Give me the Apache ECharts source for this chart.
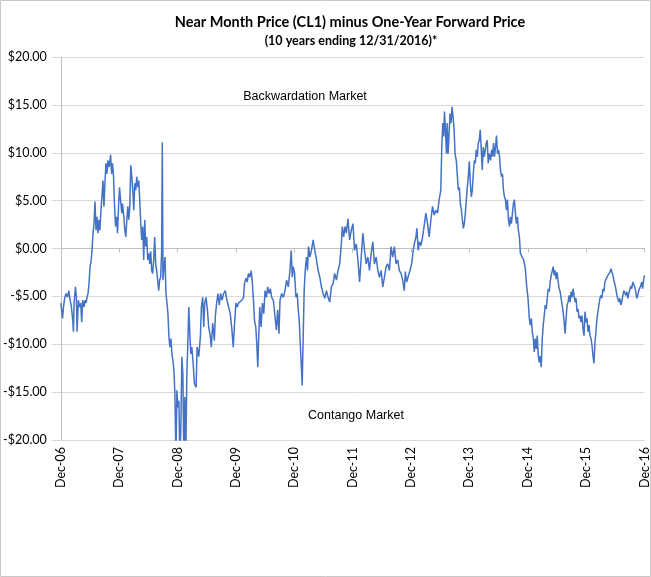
<!DOCTYPE html>
<html>
<head>
<meta charset="utf-8">
<script src="https://cdn.jsdelivr.net/npm/echarts@6/dist/echarts.min.js"></script>
<style>
  html, body { margin: 0; padding: 0; background: #fff; }
  #chart { width: 651px; height: 577px; }
</style>
</head>
<body>
<div id="chart"></div>
<script>
// [months after Dec-06, CL1 minus one-year forward in $/bbl]
const spreadReadings = [
  // 2007
  [0.00,-5.7],[0.35,-7.3],[0.55,-6.1],[0.82,-5.1],[1.09,-4.7],[1.36,-5.1],[1.64,-4.4],[1.91,-5.4],[2.18,-6.1],[2.45,-7.5],
  [2.59,-8.7],[2.73,-5.7],[3.00,-4.0],[3.20,-5.1],[3.33,-8.7],[3.61,-5.4],[3.82,-6.1],[4.09,-5.7],[4.29,-7.7],[4.50,-5.4],
  [4.77,-6.1],[4.98,-5.4],[5.18,-5.7],[5.39,-5.1],[5.59,-4.7],[5.79,-3.7],[6.00,-1.9],[6.20,-1.4],[6.41,-0.2],[6.61,1.6],
  [6.82,2.6],[7.02,4.9],[7.23,1.9],[7.43,3.3],[7.63,1.6],[7.84,3.0],[8.04,1.9],[8.25,4.0],[8.45,5.4],[8.66,7.1],
  [8.86,4.4],[9.07,6.8],[9.27,8.9],[9.48,7.8],[9.68,9.2],[9.95,8.5],[10.23,9.8],[10.43,7.8],[10.63,8.9],[10.84,7.5],
  [11.04,4.4],[11.25,2.3],[11.45,3.3],[11.66,1.6],[11.86,4.4],[12.07,6.4],[12.27,5.1],[12.54,3.7],
  // 2008
  [12.68,4.7],[12.95,3.3],[13.16,1.9],[13.36,1.2],[13.57,3.0],[13.77,4.4],[13.98,3.0],[14.18,4.4],[14.38,8.7],[14.59,7.5],
  [14.79,6.1],[15.00,4.0],[15.20,6.8],[15.41,6.1],[15.61,7.5],[15.82,6.4],[16.02,7.1],[16.22,5.1],[16.43,2.6],[16.63,0.9],
  [16.84,2.3],[17.04,-1.2],[17.25,3.0],[17.45,0.2],[17.66,1.2],[17.86,-1.2],[18.07,-0.5],[18.27,-1.6],[18.47,-0.3],[18.68,-2.3],
  [18.88,-2.6],[19.09,-1.2],[19.29,1.2],[19.50,-1.6],[19.70,-2.3],[19.91,-3.3],[20.11,-4.4],[20.32,-3.3],[20.52,-3.0],[20.72,-0.5],
  [20.86,11.1],[21.00,-3.3],[21.20,-1.9],[21.41,-0.9],[21.61,-4.7],[21.82,-5.7],[22.02,-6.8],[22.22,-9.2],[22.43,-10.3],[22.63,-9.4],
  [22.84,-11.0],[23.04,-11.7],[23.25,-12.7],[23.45,-15.2],[23.66,-22.0],[23.86,-14.8],[24.07,-16.6],[24.27,-15.9],[24.47,-22.0],[24.68,-18.6],
  // 2009
  [24.88,-11.3],[25.09,-13.1],[25.29,-22.0],[25.50,-15.5],[25.70,-21.0],[25.91,-13.1],[26.11,-9.9],[26.31,-6.1],[26.52,-8.9],[26.72,-11.0],
  [26.93,-10.3],[27.20,-12.0],[27.47,-14.1],[27.81,-14.5],[28.01,-10.3],[28.35,-11.3],[28.69,-9.2],[28.90,-6.1],[29.17,-5.1],[29.38,-8.2],
  [29.58,-5.7],[29.85,-5.1],[30.13,-6.4],[30.40,-8.2],[30.74,-9.2],[30.94,-10.3],[31.22,-7.8],[31.56,-9.6],[31.76,-7.1],[32.03,-5.7],
  [32.31,-4.7],[32.58,-5.9],[32.85,-4.7],[33.13,-5.4],[33.47,-4.7],[33.81,-4.4],[34.15,-5.4],[34.49,-5.4],[34.83,-6.8],[35.17,-8.5],
  [35.44,-10.3],[35.72,-7.8],[35.99,-5.7],
  // 2010
  [36.26,-6.1],[36.53,-5.7],[36.87,-5.9],[37.22,-5.4],[37.56,-5.1],[37.76,-3.7],[38.03,-3.1],[38.31,-3.5],[38.58,-2.6],[38.85,-3.0],
  [39.12,-2.3],[39.33,-3.3],[39.60,-5.4],[39.81,-7.5],[40.08,-8.2],[40.28,-9.9],[40.49,-12.4],[40.69,-9.2],[40.90,-6.1],[41.17,-8.2],
  [41.44,-5.7],[41.72,-6.8],[41.99,-4.4],[42.26,-5.1],[42.53,-4.0],[42.81,-4.7],[43.08,-4.2],[43.35,-5.1],[43.69,-5.4],[44.03,-7.1],
  [44.31,-8.5],[44.58,-6.4],[44.85,-8.9],[45.06,-5.4],[45.40,-4.7],[45.74,-5.1],[46.08,-4.4],[46.42,-3.3],[46.76,-4.0],[47.10,-2.3],
  [47.37,-0.2],[47.58,-3.0],[47.78,-1.9],
  // 2011
  [48.06,-2.6],[48.33,-5.1],[48.60,-4.7],[48.81,-6.4],[49.01,-7.5],[49.22,-9.9],[49.42,-12.0],[49.62,-14.3],[49.83,-9.2],[50.03,-4.4],
  [50.24,-2.3],[50.51,-0.9],[50.71,-2.3],[50.92,0.2],[51.19,-0.9],[51.53,-0.2],[51.87,0.9],[52.21,-0.2],[52.56,-1.2],[52.90,-2.3],
  [53.24,-3.0],[53.58,-4.0],[53.92,-4.7],[54.26,-5.2],[54.60,-4.4],[54.94,-5.1],[55.28,-5.6],[55.62,-4.0],[55.96,-3.7],[56.30,-2.6],
  [56.65,-3.3],[56.99,-2.3],[57.33,-1.6],[57.67,0.5],[57.87,2.3],[58.15,1.2],[58.42,2.3],[58.69,1.6],[59.03,3.1],[59.37,0.9],
  [59.71,1.9],
  // 2012
  [60.05,2.6],[60.39,-0.2],[60.74,0.5],[61.08,-1.2],[61.42,-3.5],[61.76,-0.9],[62.10,1.6],[62.44,-0.2],[62.78,-1.6],[63.12,-0.9],
  [63.46,-2.3],[63.80,-0.5],[64.14,0.7],[64.48,-1.6],[64.83,-0.9],[65.17,-2.3],[65.51,-3.0],[65.85,-2.3],[66.19,-4.0],[66.53,-3.0],
  [66.87,-1.9],[67.21,-1.6],[67.55,-2.3],[67.89,0.2],[68.23,-0.9],[68.58,0.2],[68.92,-1.6],[69.26,-1.2],[69.60,-2.3],[69.94,-2.6],
  [70.28,-3.3],[70.62,-4.4],[70.83,-2.4],[71.10,-3.5],[71.44,-3.3],[71.78,-2.3],
  // 2013
  [72.12,-1.6],[72.46,-0.2],[72.67,0.5],[73.01,1.2],[73.21,2.1],[73.48,-0.2],[73.76,0.7],[74.03,0.3],[74.37,1.2],[74.71,2.4],
  [75.05,3.7],[75.39,2.6],[75.73,1.2],[76.08,3.0],[76.42,4.4],[76.76,3.5],[77.10,4.0],[77.44,3.7],[77.78,5.1],[78.12,6.1],
  [78.32,10.6],[78.53,13.1],[78.73,11.7],[78.87,14.3],[79.07,12.4],[79.28,9.9],[79.42,13.1],[79.62,9.9],[79.82,12.0],[80.03,14.1],
  [80.23,13.1],[80.44,14.8],[80.64,13.8],[80.85,12.4],[81.05,9.9],[81.32,9.1],[81.53,7.5],[81.73,6.1],[81.94,6.4],[82.14,4.7],
  [82.35,4.0],[82.55,3.0],[82.76,2.1],[82.96,2.6],[83.16,3.7],[83.37,5.1],[83.57,6.4],[83.78,7.5],
  // 2014
  [83.98,9.1],[84.19,6.8],[84.39,5.4],[84.60,6.1],[84.80,7.8],[85.01,9.2],[85.21,8.9],[85.41,10.3],[85.62,9.6],[85.82,11.0],
  [86.03,11.3],[86.23,12.4],[86.44,10.3],[86.64,8.2],[86.85,10.6],[87.05,9.6],[87.27,10.3],[87.46,11.0],[87.66,11.3],[87.87,8.9],
  [88.07,9.9],[88.35,9.2],[88.55,10.3],[88.75,9.6],[88.96,11.0],[89.16,9.6],[89.37,10.6],[89.57,11.8],[89.78,9.9],[89.98,10.3],
  [90.19,9.6],[90.39,8.2],[90.60,7.5],[90.80,7.8],[91.00,6.1],[91.21,5.4],[91.41,5.1],[91.62,4.0],[91.82,5.1],[92.03,3.0],
  [92.23,2.3],[92.44,3.3],[92.64,2.6],[92.85,3.7],[93.05,4.7],[93.25,5.1],[93.46,3.7],[93.66,2.6],[93.87,3.3],[94.07,1.9],
  [94.28,1.2],[94.48,-0.5],[94.82,-0.3],[95.16,-1.2],[95.50,-2.1],[95.77,-3.9],
  // 2015
  [96.05,-5.2],[96.32,-7.3],[96.52,-8.0],[96.73,-7.3],[96.93,-8.7],[97.14,-9.4],[97.34,-10.8],[97.55,-9.4],[97.75,-10.5],[97.95,-9.1],
  [98.16,-11.2],[98.36,-11.9],[98.57,-11.2],[98.77,-12.4],[98.98,-9.4],[99.18,-8.0],[99.39,-7.0],[99.59,-5.9],[99.79,-6.3],[100.00,-5.2],
  [100.20,-4.2],[100.41,-4.5],[100.61,-3.5],[100.82,-2.8],[101.02,-3.0],[101.23,-1.9],[101.43,-2.8],[101.64,-2.3],[101.84,-3.2],[102.04,-2.5],
  [102.25,-3.5],[102.45,-4.2],[102.66,-4.5],[102.86,-5.2],[103.07,-5.9],[103.27,-6.6],[103.48,-7.7],[103.68,-8.9],[103.88,-7.3],[104.09,-5.9],
  [104.29,-5.6],[104.50,-4.9],[104.70,-5.6],[104.91,-4.5],[105.11,-5.1],[105.32,-4.2],[105.52,-4.9],[105.73,-5.6],[105.93,-5.2],[106.13,-6.6],
  [106.34,-6.3],[106.54,-7.3],[106.75,-7.0],[106.95,-7.7],[107.16,-7.0],[107.36,-8.4],[107.57,-9.1],[107.77,-6.6],[107.98,-7.7],
  // 2016
  [108.18,-7.3],[108.38,-8.7],[108.59,-8.0],[108.79,-9.1],[109.00,-9.4],[109.20,-10.1],[109.41,-11.2],[109.61,-12.0],[109.82,-9.8],[110.02,-8.7],
  [110.22,-7.3],[110.43,-6.6],[110.63,-5.9],[110.84,-5.2],[111.04,-4.9],[111.25,-5.2],[111.45,-4.2],[111.66,-4.5],[111.86,-3.5],[112.07,-3.2],
  [112.27,-3.3],[112.47,-2.8],[112.68,-2.6],[112.88,-2.5],[113.09,-2.1],[113.29,-2.3],[113.50,-2.8],[113.70,-3.3],[113.91,-3.5],[114.11,-4.2],
  [114.32,-4.9],[114.52,-4.7],[114.72,-5.6],[114.93,-5.2],[115.13,-5.9],[115.34,-5.6],[115.54,-4.9],[115.75,-4.4],[115.95,-4.5],[116.16,-4.9],
  [116.36,-4.5],[116.56,-5.2],[116.77,-4.7],[116.97,-4.5],[117.18,-3.9],[117.38,-4.2],[117.59,-3.5],[117.79,-3.3],[118.00,-4.0],[118.20,-4.5],
  [118.41,-5.2],[118.61,-4.9],[118.81,-4.4],[119.02,-4.5],[119.22,-3.9],[119.43,-3.5],[119.63,-4.2],[119.84,-3.2],[120.00,-2.8]
];

const tickLabels = ['Dec-06', 'Dec-07', 'Dec-08', 'Dec-09', 'Dec-10', 'Dec-11',
                    'Dec-12', 'Dec-13', 'Dec-14', 'Dec-15', 'Dec-16'];

const chart = echarts.init(document.getElementById('chart'));

const gridGray = '#D9D9D9';
const axisGray = '#BFBFBF';
const labelFont = 'Lato, sans-serif';

chart.setOption({
  animation: false,
  backgroundColor: '#fff',
  grid: { left: 59, right: 6, top: 57, bottom: 137 },
  xAxis: [{
    type: 'value',
    min: 0, max: 120, interval: 12,
    axisLine: { show: false, onZero: false },
    axisTick: { show: false },
    splitLine: { show: false },
    axisLabel: {
      rotate: 90,
      margin: 7,
      fontFamily: labelFont,
      fontSize: 12.5,
      color: '#000',
      formatter: v => tickLabels[Math.round(v / 12)]
    }
  }, {
    // horizontal axis crosses at $0, ticks hang below it
    type: 'value',
    position: 'top',
    min: 0, max: 120, interval: 12,
    axisLine: { show: true, onZero: true, lineStyle: { color: axisGray, width: 1 } },
    axisTick: { show: true, inside: true, length: 4, lineStyle: { color: axisGray } },
    axisLabel: { show: false },
    splitLine: { show: false }
  }],
  yAxis: {
    type: 'value',
    min: -20, max: 20, interval: 5,
    axisLine: { show: true, lineStyle: { color: axisGray } },
    axisTick: { show: true, length: 9, lineStyle: { color: gridGray } },
    splitLine: { show: true, lineStyle: { color: gridGray, width: 1 } },
    axisLabel: {
      margin: 14,
      fontFamily: labelFont,
      fontSize: 12.5,
      color: '#000',
      formatter: v => (v < 0 ? '-' : '') + '$' + Math.abs(v).toFixed(2)
    }
  },
  series: [{
    type: 'line',
    xAxisIndex: 0,
    data: spreadReadings,
    showSymbol: false,
    clip: true,
    lineStyle: { color: '#4472C4', width: 1.5 },
    silent: true
  }],
  graphic: [
    {
      type: 'rect',
      shape: { x: 0.5, y: 0.5, width: 650, height: 576 },
      style: { fill: null, stroke: '#C8C8C8', lineWidth: 1 },
      silent: true
    },
    {
      type: 'text', x: 350, y: 22,
      style: {
        text: 'Near Month Price (CL1) minus One-Year Forward Price',
        fontFamily: 'Lato, sans-serif', fontWeight: 'bold', fontSize: 14.5,
        fill: '#000', align: 'center', verticalAlign: 'middle'
      }
    },
    {
      type: 'text', x: 351, y: 41,
      style: {
        text: '(10 years ending 12/31/2016)*',
        fontFamily: 'Lato, sans-serif', fontWeight: 'bold', fontSize: 12.5,
        fill: '#000', align: 'center', verticalAlign: 'middle'
      }
    },
    {
      type: 'text', x: 305, y: 97,
      style: {
        text: 'Backwardation Market',
        fontFamily: 'Liberation Sans, Arial, sans-serif', fontSize: 12.5,
        fill: '#000', align: 'center', verticalAlign: 'middle'
      }
    },
    {
      type: 'text', x: 356, y: 416,
      style: {
        text: 'Contango Market',
        fontFamily: 'Liberation Sans, Arial, sans-serif', fontSize: 12.5,
        fill: '#000', align: 'center', verticalAlign: 'middle'
      }
    }
  ]
});
</script>
</body>
</html>
